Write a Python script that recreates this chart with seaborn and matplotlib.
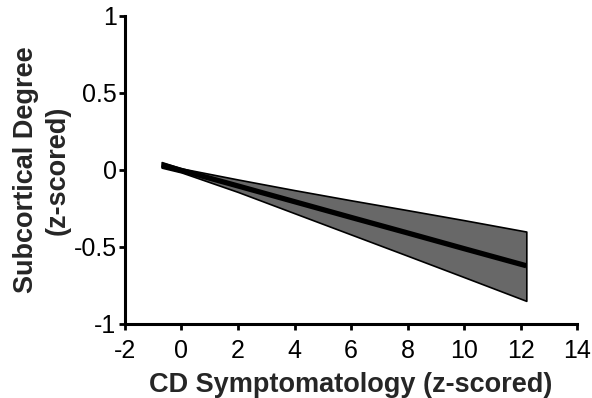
import numpy as np
import pandas as pd
import matplotlib
matplotlib.use('Agg')
import matplotlib.pyplot as plt
import seaborn as sns

# fitted line and confidence band
cd_score = [-0.7, 0, 2, 4, 6, 8, 10, 12.2]
fit = [0.033, -0.003, -0.104, -0.206, -0.308, -0.409, -0.511, -0.622]
ci_upper = [0.051, 0.010, -0.062, -0.131, -0.197, -0.261, -0.326, -0.400]
ci_lower = [0.015, -0.016, -0.143, -0.281, -0.419, -0.557, -0.696, -0.850]

x_ticks = [-2, 0, 2, 4, 6, 8, 10, 12, 14]
y_ticks = [-1, -0.5, 0, 0.5, 1]
y_tick_labels = ['-1', '-0.5', '0', '0.5', '1']

df = pd.DataFrame({'cd': cd_score, 'fit': fit, 'hi': ci_upper, 'lo': ci_lower})

sns.set_style('ticks')
plt.rcParams['font.family'] = ['Liberation Sans', 'DejaVu Sans']
plt.rcParams['axes.unicode_minus'] = False

fig = plt.figure(figsize=(5.92, 3.98), dpi=100)
ax = fig.add_axes([0.211, 0.186, 0.764, 0.774])

ax.fill_between(df['cd'], df['lo'], df['hi'], color='#686868', edgecolor='black', linewidth=1.2, zorder=1)
sns.lineplot(data=df, x='cd', y='fit', color='black', linewidth=3.8, ax=ax, zorder=2,
             solid_capstyle='butt')

ax.set_xlim(-2, 14)
ax.set_ylim(-1, 1)
ax.set_xticks(x_ticks)
ax.set_yticks(y_ticks)
ax.set_yticklabels(y_tick_labels)
ax.tick_params(labelsize=18, width=2, length=4, direction='out', colors='black')
ax.tick_params(axis='x', pad=7)
ax.tick_params(axis='y', pad=2)
for side in ['top', 'right']:
    ax.spines[side].set_visible(False)
for side in ['left', 'bottom']:
    ax.spines[side].set_linewidth(2.2)
    ax.spines[side].set_color('black')

ax.set_xlabel('CD Symptomatology (z-scored)', fontsize=19.5, fontweight='bold', labelpad=6)
ax.set_ylabel('Subcortical Degree\n(z-scored)', fontsize=19.5, fontweight='bold', labelpad=2,
              linespacing=1.3)

fig.savefig('out.png', dpi=100)
